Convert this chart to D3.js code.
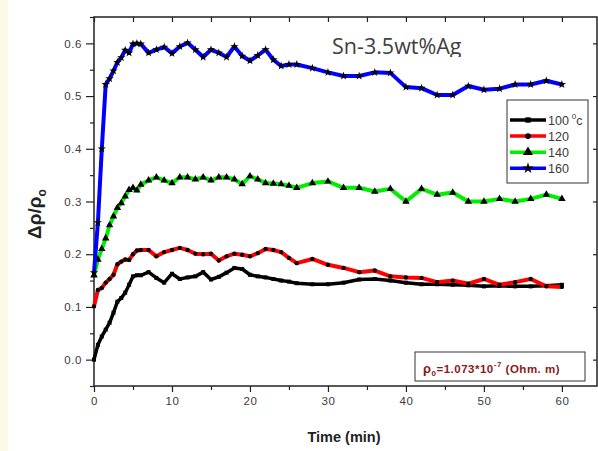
<!DOCTYPE html>
<html>
<head>
<meta charset="utf-8">
<script src="https://cdn.jsdelivr.net/npm/d3@7"></script>
<style>
  body { margin: 0; background: #fff; }
  svg { display: block; }
</style>
</head>
<body>
<svg id="chart" width="598" height="451"></svg>
<script>
// time axis (min), shared by all four curves
const timeMin = [0, 0.5, 1, 1.5, 2, 2.5, 3, 3.5, 4, 4.5, 5, 5.5, 6,
  7, 8, 9, 10, 11, 12, 13, 14, 15, 16, 17, 18, 19, 20, 21, 22, 23, 24, 25, 26,
  28, 30, 32, 34, 36, 38, 40, 42, 44, 46, 48, 50, 52, 54, 56, 58, 60]

const rho100 = [0.0, 0.028, 0.044, 0.057, 0.07, 0.089, 0.11, 0.117, 0.127, 0.142, 0.158, 0.16, 0.16,
  0.166, 0.155, 0.146, 0.163, 0.153, 0.156, 0.158, 0.166, 0.152, 0.157, 0.165, 0.174, 0.172, 0.161, 0.158, 0.156, 0.153, 0.15, 0.148, 0.145,
  0.143, 0.143, 0.146, 0.152, 0.153, 0.15, 0.146, 0.143, 0.143, 0.142, 0.141, 0.139, 0.14, 0.139, 0.139, 0.14, 0.142]

const rho120 = [0.101, 0.132, 0.136, 0.146, 0.153, 0.161, 0.181, 0.186, 0.19, 0.189, 0.2, 0.207, 0.208,
  0.208, 0.196, 0.204, 0.208, 0.212, 0.208, 0.201, 0.2, 0.201, 0.188, 0.196, 0.201, 0.199, 0.196, 0.202, 0.21, 0.208, 0.204, 0.193, 0.183,
  0.191, 0.18, 0.174, 0.166, 0.169, 0.158, 0.156, 0.155, 0.147, 0.15, 0.144, 0.153, 0.142, 0.147, 0.153, 0.139, 0.138]

const rho140 = [0.16, 0.19, 0.21, 0.23, 0.255, 0.272, 0.288, 0.297, 0.31, 0.322, 0.326, 0.321, 0.332,
  0.34, 0.346, 0.34, 0.335, 0.346, 0.346, 0.342, 0.346, 0.34, 0.346, 0.346, 0.342, 0.333, 0.348, 0.342, 0.335, 0.334, 0.333, 0.33, 0.326,
  0.335, 0.338, 0.326, 0.326, 0.319, 0.324, 0.3, 0.324, 0.313, 0.317, 0.3, 0.3, 0.305, 0.3, 0.305, 0.313, 0.305]

const rho160 = [0.165, 0.26, 0.4, 0.522, 0.533, 0.548, 0.564, 0.573, 0.587, 0.582, 0.599, 0.6, 0.599,
  0.582, 0.588, 0.593, 0.581, 0.594, 0.601, 0.588, 0.574, 0.588, 0.582, 0.574, 0.594, 0.576, 0.567, 0.577, 0.588, 0.569, 0.557, 0.56, 0.56,
  0.553, 0.545, 0.538, 0.538, 0.545, 0.544, 0.517, 0.515, 0.502, 0.502, 0.519, 0.512, 0.514, 0.522, 0.522, 0.529, 0.522]

const seriesNames = ["100", "120", "140", "160"]
const seriesValues = [rho100, rho120, rho140, rho160]
const seriesColors = ["#000000", "#ff0000", "#00ee00", "#0000ff"]
const seriesSymbols = [d3.symbolSquare, d3.symbolCircle, d3.symbolTriangle, d3.symbolStar]
const symbolSizes = [16, 15, 24, 22]

const xTicks = [0, 10, 20, 30, 40, 50, 60]
const yTicks = [0.0, 0.1, 0.2, 0.3, 0.4, 0.5, 0.6]

const svg = d3.select("#chart")
const plotL = 94, plotR = 597, plotT = 17, plotB = 386
const font = "'Liberation Sans', Arial, sans-serif"

// cream strip on the far left
svg.append("rect").attr("x", 0).attr("y", 0).attr("width", 8).attr("height", 451).attr("fill", "#fdf9e6")

const x = d3.scaleLinear().domain([0, 64.5]).range([plotL, plotR])
const y = d3.scaleLinear().domain([-0.05, 0.65]).range([plotB, plotT])

const minorX = d3.range(5, 65, 10)
const minorY = d3.range(-0.05, 0.66, 0.1)

// axes
const axisColor = "#222"
const gx = svg.append("g").attr("transform", `translate(0,${plotB})`)
  .call(d3.axisBottom(x).tickValues(xTicks).tickSize(6).tickPadding(5).tickFormat(d3.format("d")))
const gxm = svg.append("g").attr("transform", `translate(0,${plotB})`)
  .call(d3.axisBottom(x).tickValues(minorX).tickSize(4).tickFormat(""))
const gt = svg.append("g").attr("transform", `translate(0,${plotT})`)
  .call(d3.axisBottom(x).tickValues(xTicks.concat(minorX)).tickSize(5).tickFormat(""))
const gy = svg.append("g").attr("transform", `translate(${plotL},0)`)
  .call(d3.axisLeft(y).tickValues(yTicks).tickSize(8).tickPadding(4).tickFormat(d3.format(".1f")))
const gym = svg.append("g").attr("transform", `translate(${plotL},0)`)
  .call(d3.axisLeft(y).tickValues(minorY).tickSize(4).tickFormat(""))
const gr = svg.append("g").attr("transform", `translate(${plotR},0)`)
  .call(d3.axisLeft(y).tickValues(yTicks).tickSize(4).tickFormat(""))

;[gx, gxm, gt, gy, gym, gr].forEach(g => {
  g.select(".domain").remove()
  g.selectAll("line").attr("stroke", axisColor).attr("stroke-width", 1.2)
  g.selectAll("text").attr("font-family", font).attr("font-size", 11.5).attr("fill", "#3a3a3a")
    .attr("letter-spacing", 0.6)
})

// frame
svg.append("rect").attr("x", plotL).attr("y", plotT).attr("width", plotR - plotL).attr("height", plotB - plotT)
  .attr("fill", "none").attr("stroke", axisColor).attr("stroke-width", 1.5)

// curves
const line = d3.line().x((d, i) => x(timeMin[i])).y(d => y(d))
seriesValues.forEach((vals, k) => {
  svg.append("path").datum(vals)
    .attr("d", line)
    .attr("fill", "none")
    .attr("stroke", seriesColors[k])
    .attr("stroke-width", k === 0 ? 3.5 : 4)
    .attr("stroke-linejoin", "round")
  svg.append("g").selectAll("path").data(vals).join("path")
    .attr("transform", (d, i) => `translate(${x(timeMin[i])},${y(d)})`)
    .attr("d", d3.symbol().type(seriesSymbols[k]).size(symbolSizes[k]))
    .attr("fill", "#000")
})

// title (its descender is cut off in the original)
svg.append("clipPath").attr("id", "titleClip")
  .append("rect").attr("x", 320).attr("y", 25).attr("width", 170).attr("height", 32)
svg.append("text").attr("x", 332).attr("y", 54).attr("clip-path", "url(#titleClip)")
  .attr("font-family", "'Open Sans', sans-serif").attr("font-size", 21.5).attr("fill", "#404040")
  .text("Sn-3.5wt%Ag")

// axis titles
svg.append("text").attr("x", 344).attr("y", 442).attr("text-anchor", "middle")
  .attr("font-family", font).attr("font-size", 14.5).attr("font-weight", "bold").attr("fill", "#222")
  .text("Time (min)")

const yl = svg.append("text").attr("transform", "translate(41,214) rotate(-90)").attr("text-anchor", "middle")
  .attr("font-family", font).attr("font-size", 19).attr("font-weight", "bold").attr("fill", "#222")
yl.append("tspan").text("Δρ/ρ")
yl.append("tspan").attr("font-size", 12).attr("dy", 5).text("o")

// legend
const lg = svg.append("g")
lg.append("rect").attr("x", 507).attr("y", 100).attr("width", 81).attr("height", 83)
  .attr("fill", "#fff").attr("stroke", "#333").attr("stroke-width", 1)
seriesNames.forEach((name, k) => {
  const ly = 120 + k * 16.1
  lg.append("line").attr("x1", 510).attr("x2", 546).attr("y1", ly).attr("y2", ly)
    .attr("stroke", seriesColors[k]).attr("stroke-width", 3.5)
  lg.append("path").attr("transform", `translate(528,${ly})`)
    .attr("d", d3.symbol().type(seriesSymbols[k]).size(symbolSizes[k] * 1.8)).attr("fill", "#000")
  const t = lg.append("text").attr("x", 548).attr("y", ly + 4.5)
    .attr("font-family", font).attr("font-size", 12.5).attr("fill", "#3a3a3a").text(name)
  if (k === 0) {
    t.append("tspan").attr("font-size", 8).attr("dx", 3).attr("dy", -6).text("0")
    t.append("tspan").attr("font-size", 12.5).attr("dy", 6).text("c")
  }
})

// resistivity note
const nb = svg.append("g")
nb.append("rect").attr("x", 415).attr("y", 352).attr("width", 170).attr("height", 29)
  .attr("fill", "#fff").attr("stroke", "#333").attr("stroke-width", 1)
const nt = nb.append("text").attr("x", 423).attr("y", 373)
  .attr("font-family", font).attr("font-size", 11.5).attr("font-weight", "bold").attr("fill", "#8b1a1a")
  .attr("letter-spacing", 0.5)
nt.append("tspan").attr("font-size", 13).text("ρ")
nt.append("tspan").attr("font-size", 8).attr("dy", 3).text("0")
nt.append("tspan").attr("dy", -3).text("=1.073*10")
nt.append("tspan").attr("font-size", 8).attr("dy", -6).text("-7")
nt.append("tspan").attr("dy", 6).text(" (Ohm. m)")
</script>
</body>
</html>
